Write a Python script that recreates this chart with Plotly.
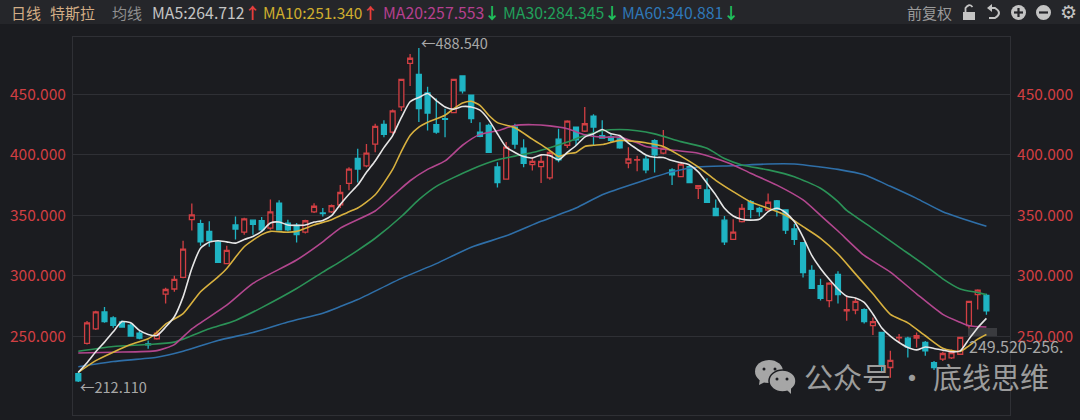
import plotly.graph_objects as go

# Daily candles (index = trading day)
opens = [219,244,256,270,265,261.7,259,252.5,243.6,247.8,284.7,289,298.6,346.4,343,336.7,328,310,342,336,346,345.5,339.4,360,343.6,341.7,336,352.8,352,352.8,
         358.6,376.4,397.2,391,409,425.3,418.9,439.7,475.8,466.7,451.4,425,430,435,465.3,449.4,418.9,424.4,390,380,423,405.6,392,390.3,381,413,408,423,419.7,432,
         416,415,413.3,393.3,395.8,396.4,411.9,401.4,387.6,382,390.3,372.4,371,355.8,346,330,344.8,361.3,355.8,354.4,362,354.4,338.7,327.3,304.5,291.8,279.4,301,271,271.6,
         271.9,258.6,253,224,248.6,248.3,248.3,244.7,228,231,232,235,258.6,284.3,283.8]
highs = [220,262.5,271,274,266.4,263,260.5,254.5,246.4,254.7,290,300,329,359.7,346.4,345,329.5,324.7,349,348,346.4,348.6,363,362.5,346.4,343.6,346.4,360,356,359,
         375,389.7,405,409,425.8,428.6,437.5,462.5,483.6,488.54,456.4,446.7,438.3,462.8,466,449.6,427,425.8,394,410.6,425.8,413,398,399.4,403.6,421.7,428.6,423.6,439.7,433.6,
         428.6,417,416,406.4,399.4,399,413,420.7,389,393,391.7,375,380.7,363,349.4,346.7,359.4,362.7,357,368,362.7,355,342.8,328,308.6,297.4,294.6,303.7,283.5,281.6,
         273,265.5,253.5,237.8,251.7,249.4,253,246,229.5,237,239,249.5,279,288.8,285]
lows = [212.11,243,255,261,257,257,249.5,247.5,239.5,247,277,286.7,298,337.5,324.7,324,310.5,309.5,330,334,334,336.7,338,337.5,336.7,327.5,335,352,349,352,
        356,370.8,377.2,389.7,402.2,414.7,417.5,436.4,457,427.2,420.3,417.5,414.7,434.7,450.8,426.4,414.7,401.5,373,379.4,405,389.7,387,376.7,379.4,394,405.8,407.8,419,407.8,
        413.3,410.5,405,389,386.4,384.8,385.4,400.5,375,381.5,376.5,363.5,360.5,349.4,325.4,329.6,344,347.5,349,353.9,349,334.5,325.4,298.6,289,279.4,273.8,277,262.7,268,
        260.5,251,220,215.6,244.7,232.3,240.6,233.7,222,229.5,231,234.5,256.6,272,267.7]
closes = [213,261,270,262,259,257.5,250,248.3,242.8,252.5,288.6,297,322,350.3,328,329,311,321,338.6,347,342.5,338,352.8,338,338,334,345.5,357.5,351.5,358,
          368.9,388.3,388.3,401.4,423.6,417,436.4,462.5,480,438.3,434.7,418.9,429.5,462.5,453,430,415.3,402.2,377,406.4,409,393,394.7,394.7,402,396,428,412.5,425.8,423,
          414,412,405.8,396.7,396,387.6,400,405.5,383.4,392.3,377,374.6,360.8,349.7,328,336,355.8,355,353,360.8,355,337.8,330,302.5,289.5,281.3,293.8,284.3,272,278.8,
          262,262,225,230,249,241,250.3,237.8,224,235.6,236.4,249,278.8,288,271]

# Moving averages (day index, value)
ma5_x = list(range(105))
ma5_y = [220,228,237,245,253.6,262,261,254.7,251.4,250.5,257.5,266,282.5,306,322.8,327.8,329,328,327,330,332.5,336.7,343.6,344.4,342,341.7,342,344.4,345.8,349.7,
         359,367.5,375,385.6,395,406,416,431,444,447.5,450.8,445,439.7,437.8,440,439.7,437,429,417.5,406.4,402,398.6,397.5,400,399.4,396,402,407.8,414.7,417.5,
         421,417.5,416,409.7,404.7,400,398,397.8,395.3,393.6,391.7,386,376.5,366.9,355.8,349.4,346.7,346,346.7,353,355.8,352.2,344.8,332,316.8,306,297,289,283,281.6,
         278,268.3,257,250,244.7,240.6,238.6,241,239.8,238.4,237,237.8,247.5,257,264.712]
ma10_x = [0,2,4,6,8,9,10,12,14,16,17,19,21,22,24,25,27,29,31,32,34,36,37,38,39,40,42,43,44,45,46,47,48,50,52,53,54,55,56,57,58,59,60,62,64,65,67,69,71,73,75,77,79,81,83,85,87,89,91,93,95,97,99,101,102,103,104]
ma10_y = [220,229.7,236.7,243,247.8,253,260,268.6,286.7,299,306,324,334,336.7,336,336.7,342,346.4,353,356,367,388,403,416,423,427,432.8,438.3,443,444.4,441,432.8,426.7,422.5,413,408.5,403.6,398.6,401,402,407,408,408.6,412,411,410,407,399,390,379,369.6,361,355.8,350,340.6,331,318,301.5,285,268,261,250.3,240,237.3,242,247.5,251.34]
ma20_x = [0,4,9,11,13,17,20,25,28,30,34,36,38,40,42,44,46,48,50,52,54,56,58,60,62,64,65,68,71,73,75,77,80,83,85,87,90,93,96,99,101,102,104]
ma20_y = [236,236.7,238,243,256,275.6,293.6,313,328,339.4,353.6,366,378.6,388,395,408,417,420,424.4,425,424,421.7,416.7,414.7,414.7,410,407,404,401.4,397,391.7,384.8,375,362.7,350,337,316.8,303,285,268,261.4,258.6,257.553]
ma30_x = [0,4,8,11,15,18,21,25,28,30,32,34,37,39,41,45,48,50,52,54,56,58,60,62,64,66,69,72,74,76,79,82,85,87,88,91,94,97,99,101,103,104]
ma30_y = [237.5,241.4,243,245,256,263,273.6,289.4,303,311.7,321,331,349,363,374,388,396,399,402,406,410.6,416,420,421,420,417.4,411,405.5,397,391.7,387.6,382,372.4,361.3,354,339,323.7,308.4,297.4,289,286,284.345]
ma60_x = [0,4,9,12,16,20,24,28,30,32,37,41,45,49,53,57,60,64,68,71,75,79,82,85,87,90,93,96,99,104]
ma60_y = [224.7,229,232.5,237.5,246.4,253,261.7,269,274.5,280.3,297.8,310,323.6,333,345,356,367,377,386,390,391,392.5,392.5,390,388,383.5,374,364,353,340.881]

y_ticks = [250, 300, 350, 400, 450]
y_labels = ["250.000", "300.000", "350.000", "400.000", "450.000"]

BG = "#1b1c20"
HEAD = "#25262a"
GRID = "#2f3035"
RED = "#d13f43"
CYAN = "#1fb4c3"
GREY = "#a9a9a9"
FONT = "Noto Sans CJK SC"

W, H = 1080, 420
L, R, T, B = 73, 1010, 37, 415
def px(x): return (x - L) / (R - L)
def py(y): return 1 - (y - T) / (B - T)

fig = go.Figure()
fig.add_trace(go.Candlestick(
    x=list(range(len(opens))), open=opens, high=highs, low=lows, close=closes,
    increasing=dict(line=dict(color=RED, width=1.3), fillcolor=BG),
    decreasing=dict(line=dict(color=CYAN, width=1.3), fillcolor=CYAN),
    whiskerwidth=0, showlegend=False, hoverinfo="skip"))
for xs, ys, col in [(ma60_x, ma60_y, "#2f6fa8"), (ma30_x, ma30_y, "#2b9257"), (ma20_x, ma20_y, "#b3478f"),
                    (ma10_x, ma10_y, "#d8b13f"), (ma5_x, ma5_y, "#e6e6e6")]:
    fig.add_trace(go.Scatter(x=xs, y=ys, mode="lines", yaxis="y2", showlegend=False, hoverinfo="skip",
                             line=dict(color=col, width=1.6, shape="spline", smoothing=0.6)))

ann = []
def text(x, y, s, color=GREY, size=14.5, anchor="left", family=FONT):
    ann.append(dict(xref="paper", yref="paper", x=px(x), y=py(y), text=s, showarrow=False, xanchor=anchor,
                    yanchor="middle", font=dict(color=color, size=size, family=family)))

def arrow(ch, col):
    return f'<span style="color:{col}"><b>{ch}</b></span>'

text(9, 12, "日线", "#d2ad85", 15)
text(48, 12, "特斯拉", "#d2ad85", 15)
text(110, 12, "均线", "#8f8f8f", 15)
text(150, 12, "MA5:264.712" + arrow("↑", "#e8403f"), "#c4c4c4", 15.8)
text(261, 12, "MA10:251.340" + arrow("↑", "#e8403f"), "#cfae2e", 15.5)
text(381, 12, "MA20:257.553" + arrow("↓", "#1fc25f"), "#b5408f", 15.8)
text(501, 12, "MA30:284.345" + arrow("↓", "#1fc25f"), "#21a05a", 15.8)
text(620, 12, "MA60:340.881" + arrow("↓", "#1fc25f"), "#2f78b8", 15.8)
text(905, 12, "前复权", "#9a9a9a", 15)
text(1068, 12, "⚙", "#c4c4c4", size=19, anchor="center", family="DejaVu Sans")
text(78, 386, "←212.110", "#a8a8a8", 14.5)
text(419, 43, "←488.540", "#a8a8a8", 14.5)
text(967, 346, "249.520-256.", "#a8a8a8", 16)
text(802, 376, "公众号 · 底线思维", "#9c9c9c", 29)

shapes = [dict(type="rect", xref="paper", yref="paper", x0=px(0), x1=px(W), y0=py(0), y1=py(24),
               fillcolor=HEAD, line_width=0, layer="below"),
          dict(type="rect", xref="paper", yref="paper", x0=px(968), x1=px(997), y0=py(328), y1=py(336),
               fillcolor="#3a3b3f", line_width=0, layer="below")]
def sh(kind, x0, y0, x1, y1, fill=None, line=None, lw=0):
    shapes.append(dict(type=kind, xref="paper", yref="paper", x0=px(x0), x1=px(x1), y0=py(y0), y1=py(y1),
                       fillcolor=fill, line=dict(color=line, width=lw)))
ICON = "#c4c4c4"
# lock
sh("rect", 963, 12, 975, 20, ICON)
shapes.append(dict(type="path", xref="paper", yref="paper", line=dict(color=ICON, width=1.8),
                   path=f"M {px(965.5)} {py(12)} L {px(965.5)} {py(8)} Q {px(969)} {py(3)} {px(972.5)} {py(7)}"))
# undo
shapes.append(dict(type="path", xref="paper", yref="paper", line=dict(color=ICON, width=2),
                   path=f"M {px(989)} {py(8)} L {px(995)} {py(8)} Q {px(1003)} {py(13)} {px(995)} {py(18)} L {px(989)} {py(18)}"))
shapes.append(dict(type="path", xref="paper", yref="paper", fillcolor=ICON, line_width=0,
                   path=f"M {px(987)} {py(8)} L {px(992)} {py(4)} L {px(992)} {py(12)} Z"))
# plus, minus
sh("circle", 1011, 5, 1026, 20, ICON)
sh("line", 1014, 12.5, 1023, 12.5, None, HEAD, 2.2)
sh("line", 1018.5, 8, 1018.5, 17, None, HEAD, 2.2)
sh("circle", 1036, 5, 1051, 20, ICON)
sh("line", 1039, 12.5, 1048, 12.5, None, HEAD, 2.2)
# WeChat mark
sh("circle", 755, 360, 783, 383, "#a6a6a6")
shapes.append(dict(type="path", xref="paper", yref="paper", fillcolor="#a6a6a6", line_width=0,
                   path=f"M {px(760)} {py(378)} L {px(759)} {py(385)} L {px(767)} {py(381)} Z"))
sh("circle", 769, 370, 796, 392, "#a6a6a6", BG, 1.5)
shapes.append(dict(type="path", xref="paper", yref="paper", fillcolor="#a6a6a6", line_width=0,
                   path=f"M {px(786)} {py(389)} L {px(791)} {py(394)} L {px(791)} {py(386)} Z"))
for cx, cy in [(764, 369), (775, 369), (777, 379), (787, 379)]:
    sh("circle", cx - 1.5, cy - 1.5, cx + 1.5, cy + 1.5, BG)

yrange = [184.7, 497.6]
tickfont = dict(color=RED, size=15.5, family=FONT)
common_y = dict(range=yrange, tickvals=y_ticks, ticktext=y_labels, tickfont=tickfont, zeroline=False,
                ticks="outside", ticklen=3, tickcolor=BG, fixedrange=True)
fig.update_layout(
    width=W, height=H, autosize=False,
    paper_bgcolor=BG, plot_bgcolor=BG, boxgap=0.2,
    margin=dict(l=L, r=W - R, t=T, b=H - B),
    xaxis=dict(range=[-0.607, 106.7], showgrid=False, showticklabels=False, ticks="", zeroline=False,
               rangeslider=dict(visible=False), showline=True, mirror=True, linecolor=GRID, linewidth=1),
    yaxis=dict(side="left", showgrid=True, gridcolor=GRID, gridwidth=1, showline=True, linecolor=GRID,
               linewidth=1, **common_y),
    yaxis2=dict(side="right", overlaying="y", showgrid=False, showline=True, linecolor=GRID, linewidth=1, **common_y),
    annotations=ann, shapes=shapes, showlegend=False,
)
fig.write_html("out.html", config=dict(displayModeBar=False),
               post_script="document.body.style.margin='0';document.body.style.background='#1b1c20';")
